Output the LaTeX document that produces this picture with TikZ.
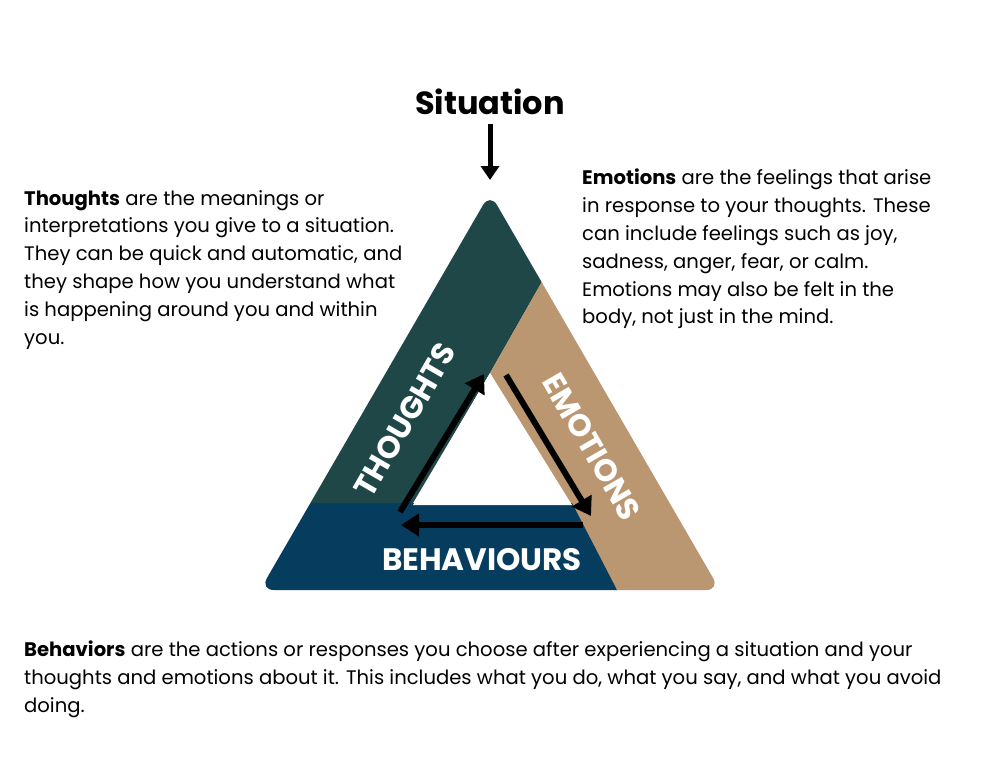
\documentclass[tikz,border=0pt]{standalone}
\usepackage{fontspec}
\setmainfont{Poppins}
\usepackage{tikz}
\usetikzlibrary{arrows.meta}

\definecolor{thoughtcol}{HTML}{1F4748}
\definecolor{emotioncol}{HTML}{BA9770}
\definecolor{behavcol}{HTML}{063C5E}

\begin{document}
\begin{tikzpicture}[x=1pt,y=-1pt,
   body/.style={anchor=north west,align=left,font=\fontsize{19.6}{27.8}\selectfont,inner sep=0pt},
   band/.style={text=white,font=\fontsize{31}{34}\selectfont\bfseries},
   cyc/.style={line width=6pt,-{Triangle[length=18pt,width=22pt]}}]
\useasboundingbox[fill=white] (0,0) rectangle (984,779);
% corners of the triangle
\coordinate (top) at (490,193);
\coordinate (bl) at (260,590);
\coordinate (br) at (720,590);
\begin{scope}
\clip[rounded corners=14] (top) -- (bl) -- (br) -- cycle;
\fill[thoughtcol] (490,150) -- (200,620) -- (200,503) -- (413,503) -- (490,373) -- (560,250) -- cycle;
\fill[emotioncol] (560,250) -- (490,373) -- (617,590) -- (780,640) -- (620,250) -- cycle;
\fill[behavcol] (200,503) -- (413,503) -- (572,503) -- (617,590) -- (617,640) -- (200,640) -- cycle;
\end{scope}
\fill[white] (490,373) -- (413,505) -- (572,505) -- cycle;
% labels on the bands
\node[band,rotate=60] (thoughts) at (405,420) {THOUGHTS};
\node[band,rotate=-60] (emotions) at (592,447) {EMOTIONS};
\node[band] (behav) at (482,560) {BEHAVIOURS};
% the cycle
\coordinate (t1) at (400,512);
\coordinate (t2) at (484,374);
\coordinate (e1) at (506,375);
\coordinate (e2) at (591,516);
\coordinate (b1) at (583,525);
\coordinate (b2) at (401,525);
\draw[cyc] (t1) -- (t2);
\draw[cyc] (e1) -- (e2);
\draw[cyc] (b1) -- (b2);
% situation
\node[font=\fontsize{32}{35}\selectfont\bfseries] (sit) at (490,102) {Situation};
\coordinate (sitend) at (490,180);
\draw[line width=5pt,-{Triangle[length=14pt,width=18pt]}] (sit.south) ++(0,6) -- (sitend);
% descriptions
\node[body] (thoughtstxt) at (24,190) {\textbf{Thoughts} are the meanings or\\
interpretations you give to a situation.\\
They can be quick and automatic, and\\
they shape how you understand what\\
is happening around you and within\\
you.};
\node[body] (emotionstxt) at (582,169) {\textbf{Emotions} are the feelings that arise\\
in response to your thoughts. These\\
can include feelings such as joy,\\
sadness, anger, fear, or calm.\\
Emotions may also be felt in the\\
body, not just in the mind.};
\node[body] (behavtxt) at (24,641) {\textbf{Behaviors} are the actions or responses you choose after experiencing a situation and your\\
thoughts and emotions about it. This includes what you do, what you say, and what you avoid\\
doing.};
\end{tikzpicture}
\end{document}
